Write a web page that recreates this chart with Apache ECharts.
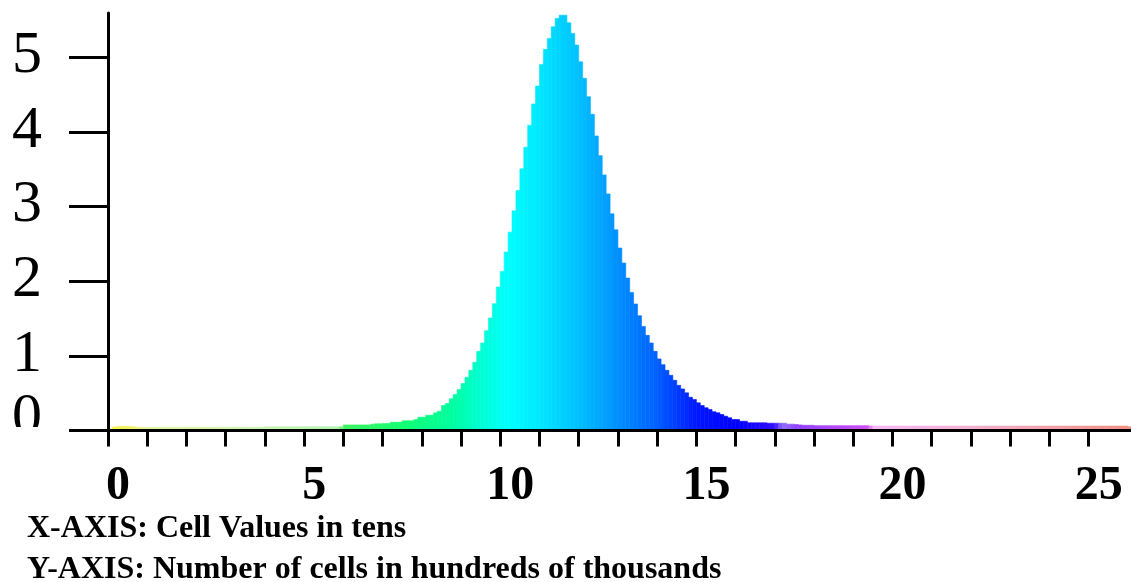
<!DOCTYPE html>
<html><head><meta charset="utf-8">
<script src="https://cdn.jsdelivr.net/npm/echarts@6/dist/echarts.min.js"></script>
<style>html,body{margin:0;padding:0;background:#fff}#c{width:1131px;height:582px}</style>
</head><body><div id="c"></div>
<script>
// ---- data ----
const binWidth = 0.1; // each bar = one cell value (x axis in tens)
const counts = [
  0.02,0.045,0.055,0.055,0.055,0.055,0.05,0.045,0.045,0.045,
  0.045,0.045,0.045,0.045,0.045,0.045,0.045,0.045,0.045,0.045,
  0.045,0.045,0.045,0.045,0.045,0.045,0.045,0.045,0.045,0.045,
  0.045,0.045,0.045,0.045,0.045,0.045,0.045,0.045,0.045,0.045,
  0.05,0.05,0.05,0.05,0.05,0.05,0.05,0.05,0.05,0.05,
  0.05,0.05,0.05,0.05,0.05,0.05,0.05,0.05,0.05,0.05,
  0.075,0.075,0.075,0.075,0.075,0.075,0.075,0.085,0.09,0.09,
  0.094,0.094,0.111,0.111,0.111,0.13,0.13,0.13,0.147,0.178,
  0.178,0.205,0.205,0.237,0.258,0.334,0.361,0.424,0.481,0.548,
  0.628,0.713,0.806,0.913,1.060,1.172,1.337,1.507,1.698,1.921,
  2.130,2.389,2.656,2.941,3.213,3.503,3.793,4.087,4.372,4.612,
  4.902,5.103,5.250,5.405,5.517,5.561,5.561,5.459,5.317,5.160,
  4.937,4.715,4.469,4.234,3.944,3.680,3.422,3.168,2.901,2.687,
  2.443,2.242,2.041,1.849,1.694,1.537,1.394,1.274,1.172,1.060,
  0.959,0.882,0.806,0.739,0.672,0.605,0.557,0.504,0.445,0.414,
  0.370,0.334,0.304,0.281,0.251,0.237,0.214,0.191,0.170,0.147,
  0.147,0.124,0.124,0.103,0.103,0.103,0.103,0.103,0.098,0.098,
  0.098,0.098,0.098,0.085,0.085,0.08,0.075,0.07,0.07,0.07,
  0.065,0.065,0.065,0.065,0.065,0.065,0.065,0.065,0.065,0.065,
  0.065,0.065,0.065,0.065,0.06,0.06,0.06,0.06,0.06,0.06,
  0.06,0.06,0.06,0.06,0.06,0.06,0.06,0.06,0.06,0.06,
  0.06,0.06,0.06,0.06,0.06,0.06,0.06,0.06,0.06,0.06,
  0.06,0.06,0.06,0.06,0.06,0.06,0.06,0.06,0.06,0.06,
  0.06,0.06,0.06,0.06,0.06,0.06,0.06,0.06,0.06,0.06,
  0.06,0.06,0.06,0.06,0.06,0.06,0.06,0.06,0.06,0.06,
  0.06,0.06,0.06,0.06,0.06,0.06,0.06,0.06,0.06,0.06,
  0.05
];
const xTickValues = [0,1,2,3,4,5,6,7,8,9,10,11,12,13,14,15,16,17,18,19,20,21,22,23,24,25];
const xLabelValues = [0,5,10,15,20,25];
const yLabelValues = [0,1,2,3,4,5];
const xAxisTitle = 'X-AXIS: Cell Values in tens';
const yAxisTitle = 'Y-AXIS: Number of cells in hundreds of thousands';

// ---- style: colour along x ----
const colorStops = [
  [0,'#f4f43c'],[0.7,'#f0f070'],[1,'#e2f4a0'],[4,'#c8f4b0'],[5.9,'#b0f4b0'],
  [6.0,'#40f060'],[7.5,'#10ff70'],[8.8,'#00ffa0'],[9.6,'#00ffd8'],[10.2,'#00ffff'],
  [11,'#00e8ff'],[12,'#00c0ff'],[13,'#0090ff'],[14,'#0060ff'],[15,'#0018ff'],
  [16,'#0000ff'],[17,'#3010ff'],[17.2,'#9070ff'],[17.6,'#9040ff'],[19.4,'#d050f0'],
  [19.5,'#f6b8f6'],[22,'#f2b0d0'],[26.1,'#f09080']
];
function hex2rgb(h){return [parseInt(h.slice(1,3),16),parseInt(h.slice(3,5),16),parseInt(h.slice(5,7),16)];}
function colorAt(x){
  if (x <= colorStops[0][0]) return colorStops[0][1];
  for (let k=1;k<colorStops.length;k++){
    if (x <= colorStops[k][0]){
      const a=colorStops[k-1], b=colorStops[k];
      const t=(x-a[0])/(b[0]-a[0]);
      const ca=hex2rgb(a[1]), cb=hex2rgb(b[1]);
      const c=ca.map((v,j)=>Math.round(v+(cb[j]-v)*t));
      return 'rgb('+c.join(',')+')';
    }
  }
  return colorStops[colorStops.length-1][1];
}

const chart = echarts.init(document.getElementById('c'));
const data = counts.map((v,i)=>[i*binWidth, v]);
chart.setOption({
  animation:false,
  backgroundColor:'#fff',
  grid:{left:108,right:0,top:13,bottom:151.5},
  xAxis:{
    type:'value',min:0,max:26.08,z:10,
    axisLine:{show:true,onZero:false,lineStyle:{color:'#000',width:3}},
    axisTick:{show:true,customValues:xTickValues,length:16,lineStyle:{color:'#000',width:3}},
    axisLabel:{customValues:xLabelValues,fontSize:48,fontWeight:'bold',fontFamily:'Liberation Serif',color:'#000',margin:32,padding:[0,0,0,20]},
    splitLine:{show:false}
  },
  yAxis:{
    type:'value',min:0,max:5.59,z:10,
    axisLine:{show:true,lineStyle:{color:'#000',width:3}},
    axisTick:{show:true,customValues:yLabelValues,length:39,lineStyle:{color:'#000',width:3}},
    axisLabel:{
      customValues:yLabelValues,fontSize:60,fontFamily:'Liberation Serif',color:'#000',margin:66,padding:[0,0,2,0],
      formatter:function(v){ return v===0 ? '{z|0}' : String(v); },
      rich:{z:{fontSize:60,fontFamily:'Liberation Serif',color:'#000',padding:[0,0,22,0]}}
    },
    splitLine:{show:false}
  },
  series:[{
    type:'custom', data:data, clip:true, z:1,
    renderItem:function(params,api){
      const x=api.value(0), v=api.value(1);
      const p0=api.coord([x,0]), p1=api.coord([x+binWidth,v]);
      const c=colorAt(x+binWidth/2);
      return {type:'rect',shape:{x:p0[0],y:p1[1],width:p1[0]-p0[0],height:p0[1]-p1[1]},style:{fill:c,stroke:c,lineWidth:0.6}};
    }
  }],
  graphic:[
    {type:'rect',z:100,shape:{x:0,y:427,width:66,height:28},style:{fill:'#fff'}},
    {type:'text',z:100,left:27,top:513,style:{text:xAxisTitle,font:'bold 32px "Liberation Serif"',fill:'#000'}},
    {type:'text',z:100,left:27,top:554,style:{text:yAxisTitle,font:'bold 32px "Liberation Serif"',fill:'#000'}}
  ]
});
</script></body></html>
